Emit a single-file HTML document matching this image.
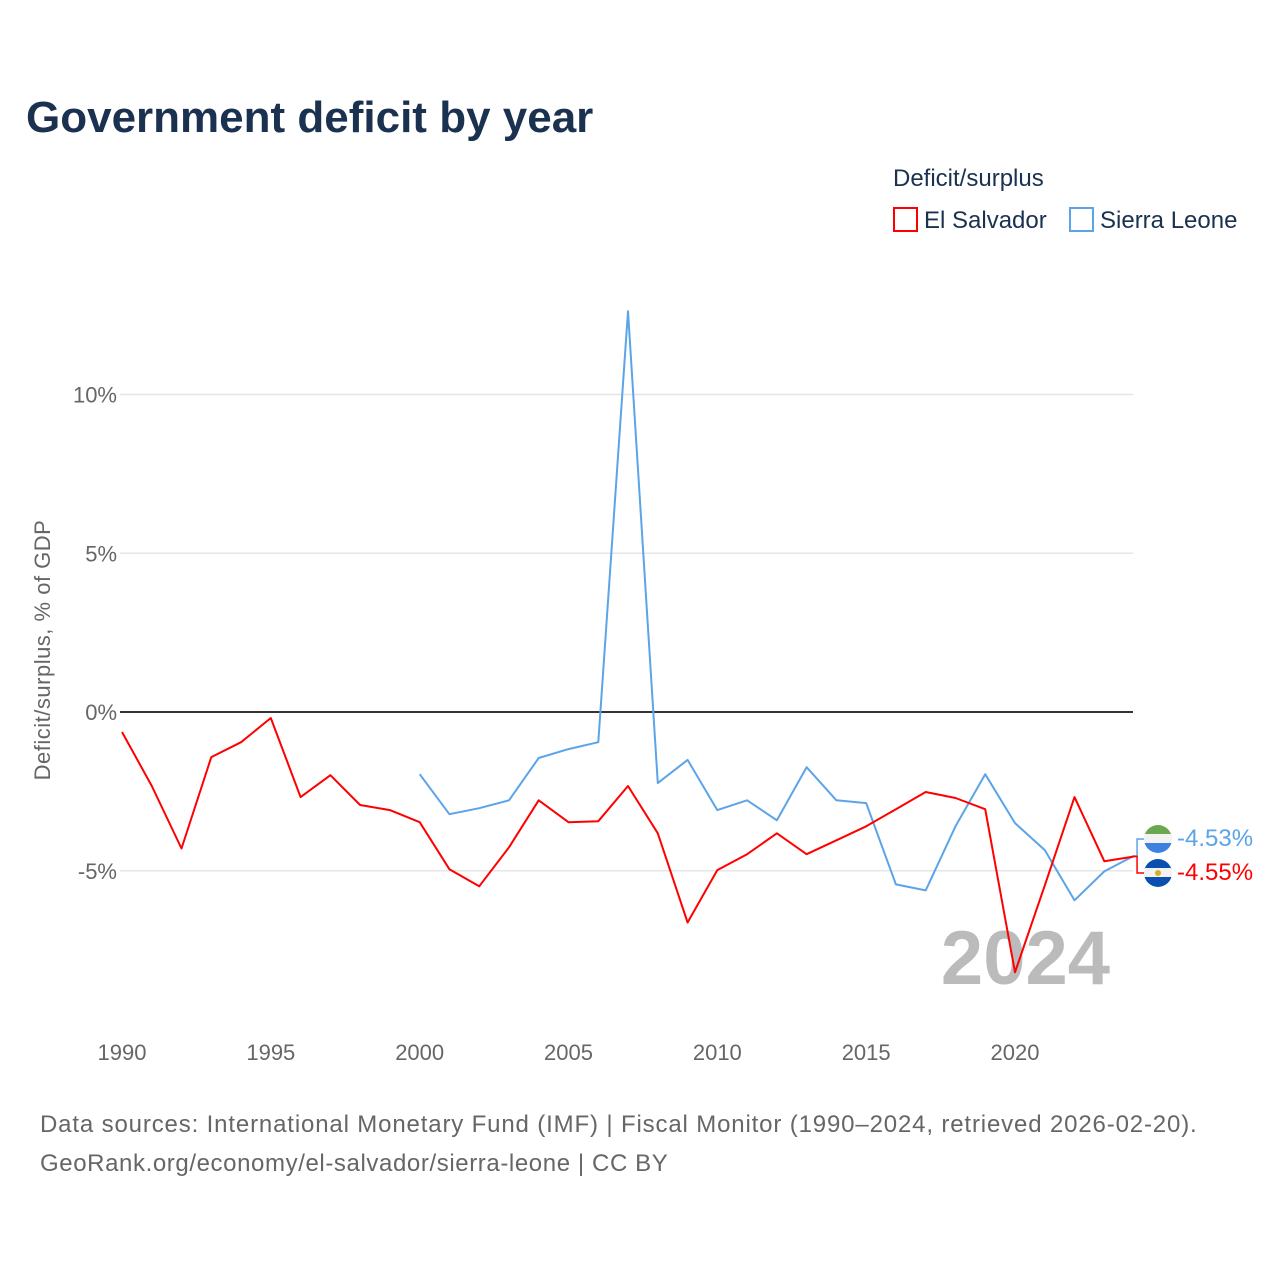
<!DOCTYPE html>
<html><head><meta charset="utf-8">
<style>
body{margin:0;background:#fff;font-family:"Liberation Sans",sans-serif;}
svg text{font-family:"Liberation Sans",sans-serif;}
</style></head>
<body>
<svg width="1280" height="1280" viewBox="0 0 1280 1280" id="chart">
<defs>
<clipPath id="c1"><circle cx="1158" cy="839" r="14"/></clipPath>
<clipPath id="c2"><circle cx="1158" cy="873" r="14"/></clipPath>
</defs>
<text x="26" y="132" font-size="44" font-weight="bold" fill="#1a3150">Government deficit by year</text>
<text x="893" y="186" font-size="24" fill="#1a3150">Deficit/surplus</text>
<g><rect x="894" y="208" width="23" height="23" fill="none" stroke="#f00" stroke-width="2"/><text x="924" y="228" font-size="24" fill="#1a3150">El Salvador</text></g>
<g><rect x="1070" y="208" width="23" height="23" fill="none" stroke="#5ba4e8" stroke-width="2"/><text x="1100" y="228" font-size="24" fill="#1a3150">Sierra Leone</text></g>
<text transform="translate(50,650) rotate(-90)" text-anchor="middle" font-size="22" fill="#666" letter-spacing="0.5">Deficit/surplus, % of GDP</text>
<g id="grid"></g>
<text x="1110" y="984" text-anchor="end" font-size="76" font-weight="bold" fill="#bbb">2024</text>
<g id="series"></g>
<g id="xt"></g>
<text x="40" y="1132" font-size="24" fill="#666" letter-spacing="0.85">Data sources: International Monetary Fund (IMF) | Fiscal Monitor (1990–2024, retrieved 2026-02-20).</text>
<text x="40" y="1171" font-size="24" fill="#666" letter-spacing="0.6">GeoRank.org/economy/el-salvador/sierra-leone | CC BY</text>
</svg>
<script>
const years=[];for(let y=1990;y<=2024;y++)years.push(y);
const elSalvador=[-0.63,-2.33,-4.3,-1.42,-0.95,-0.19,-2.68,-1.99,-2.93,-3.09,-3.47,-4.95,-5.49,-4.26,-2.78,-3.47,-3.44,-2.33,-3.82,-6.63,-4.98,-4.48,-3.82,-4.48,-4.04,-3.6,-3.06,-2.52,-2.71,-3.06,-8.2,-5.46,-2.68,-4.7,-4.55];
const sierraLeone=[null,null,null,null,null,null,null,null,null,null,-1.96,-3.22,-3.03,-2.78,-1.45,-1.17,-0.95,12.62,-2.24,-1.51,-3.09,-2.78,-3.41,-1.74,-2.78,-2.87,-5.43,-5.62,-3.6,-1.96,-3.5,-4.35,-5.93,-5.02,-4.53];
const yTicks=[10,5,0,-5];
const yTickLabels=["10%","5%","0%","-5%"];
const xTicks=[1990,1995,2000,2005,2010,2015,2020];
const NS="http://www.w3.org/2000/svg";
const X=y=>122+(y-1990)*(1015-122)/30;
const Y=v=>712-v*31.75;
function mk(t,a,p){const e=document.createElementNS(NS,t);for(const k in a)e.setAttribute(k,a[k]);p.appendChild(e);return e;}
const grid=document.getElementById('grid');
yTicks.forEach((v,i)=>{
 const l=mk('line',{x1:120,x2:1133,y1:Y(v),y2:Y(v),stroke:v===0?'#333':'#e6e6e6','stroke-width':v===0?2:1.5},grid);
 
 
 const t=mk('text',{x:117,y:Y(v)+8,'text-anchor':'end','font-size':22,fill:'#666'},grid);
 t.textContent=yTickLabels[i];
 
 
});
const xt=document.getElementById('xt');
xTicks.forEach(y=>{
 const t=mk('text',{x:X(y),y:1060,'text-anchor':'middle','font-size':22,fill:'#666'},xt);
 t.textContent=y;
 
 
});
const sg=document.getElementById('series');
function line(data,color,name){
 let d='';data.forEach((v,i)=>{if(v===null)return;d+=(d?'L':'M')+X(years[i]).toFixed(1)+','+Y(v).toFixed(1);});
 const p=mk('path',{d:d,fill:'none',stroke:color,'stroke-width':2,'stroke-linejoin':'round'},sg);
 
 
}
line(sierraLeone,'#5ba4e8','sierra-leone-line');
line(elSalvador,'#f00','el-salvador-line');
const lx=X(2024);
const slv=sierraLeone[sierraLeone.length-1], esv=elSalvador[elSalvador.length-1];
mk('path',{d:`M${lx},${Y(slv)} h3 V839 h8`,fill:'none',stroke:'#5ba4e8','stroke-width':1.5},sg);
mk('path',{d:`M${lx},${Y(esv)} h3 V873 h8`,fill:'none',stroke:'#f00','stroke-width':1.5},sg);
const f1=mk('g',{'clip-path':'url(#c1)'},sg);


mk('rect',{x:1144,y:825,width:28,height:10,fill:'#6aa84f'},f1);
mk('rect',{x:1144,y:834,width:28,height:10,fill:'#f2f2f2'},f1);
mk('rect',{x:1144,y:843,width:28,height:10,fill:'#3b82e0'},f1);
const f2=mk('g',{'clip-path':'url(#c2)'},sg);


mk('rect',{x:1144,y:859,width:28,height:10,fill:'#0b4fb0'},f2);
mk('rect',{x:1144,y:868,width:28,height:10,fill:'#f2f2f2'},f2);
mk('rect',{x:1144,y:877,width:28,height:10,fill:'#0b4fb0'},f2);
mk('circle',{cx:1158,cy:873,r:3,fill:'#d4b020'},f2);
const t1=mk('text',{x:1177,y:846,'font-size':24,fill:'#5ba4e8'},sg);
t1.textContent=slv.toFixed(2)+'%';


const t2=mk('text',{x:1177,y:880,'font-size':24,fill:'#f00'},sg);
t2.textContent=esv.toFixed(2)+'%';


</script>
</body></html>
